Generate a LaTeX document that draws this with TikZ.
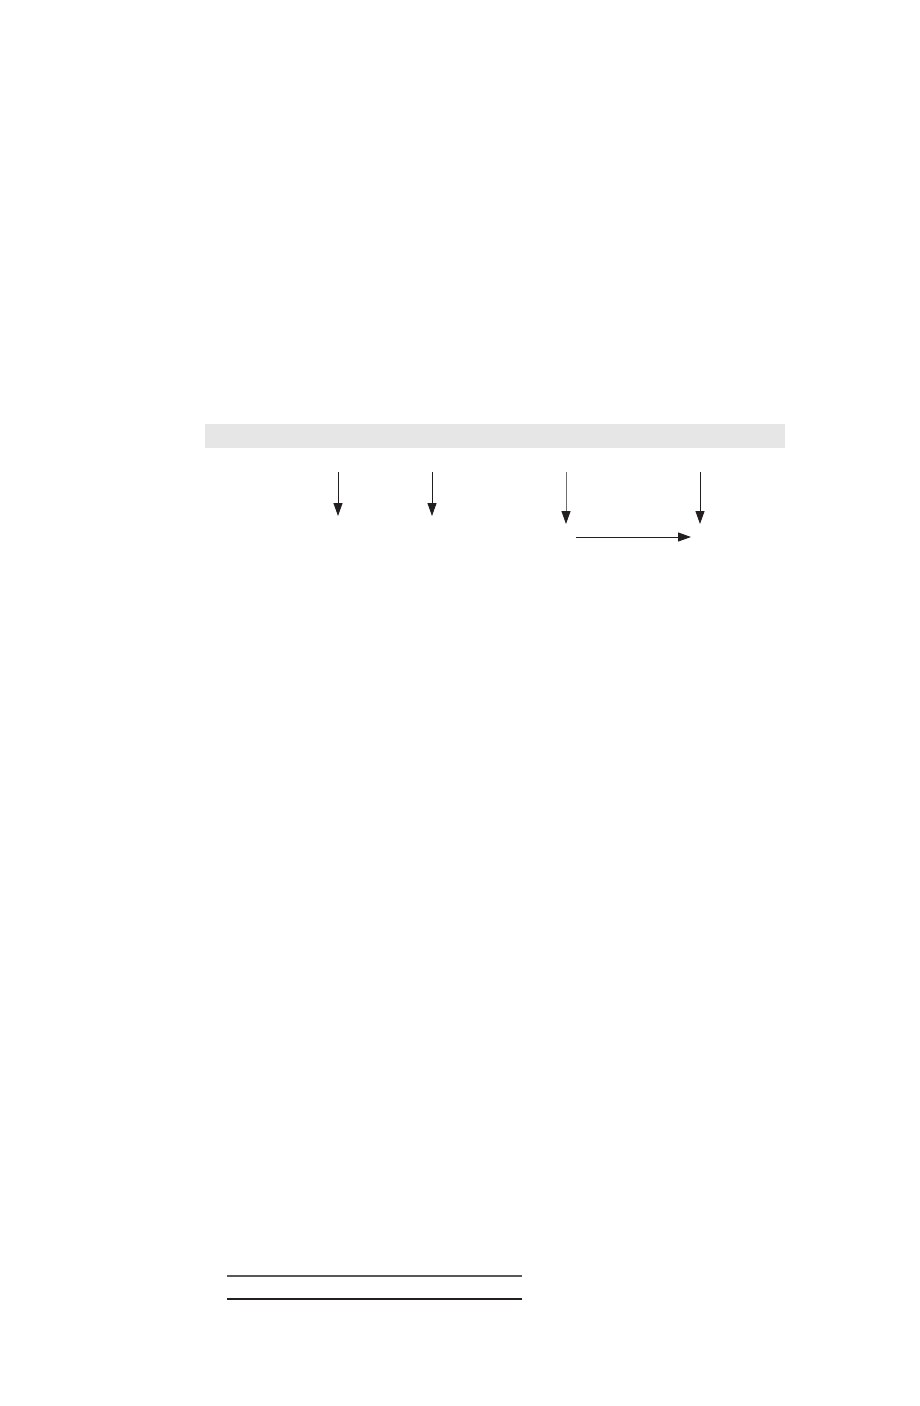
\documentclass[tikz,border=0pt]{standalone}
\usetikzlibrary{arrows.meta}
\definecolor{ink}{HTML}{231F20}
\definecolor{band}{HTML}{E6E6E6}
\tikzset{
  conn/.style={draw=ink, line width=1pt, -{Triangle[length=13pt,width=9pt,color=ink]}},
  rule/.style={draw=ink, line width=1.1pt}
}
\begin{document}
\begin{tikzpicture}[x=1pt,y=-1pt]
\useasboundingbox (0,0) rectangle (920,1406);
\fill[band] (205,424) rectangle (785,448);
% arrow end points
\coordinate (a1) at (338,472); \coordinate (b1) at (338,516);
\coordinate (a2) at (432,472); \coordinate (b2) at (432,516);
\coordinate (a3) at (566,472); \coordinate (b3) at (566,524);
\coordinate (a4) at (700,472); \coordinate (b4) at (700,524);
\coordinate (h1) at (576,537); \coordinate (h2) at (691,537);
\draw[conn] (a1) -- (b1);
\draw[conn] (a2) -- (b2);
\draw[conn, draw=ink!65] (a3) -- (b3);
\draw[conn] (a4) -- (b4);
\draw[conn] (h1) -- (h2);
% bottom rules
\coordinate (r1a) at (227,1276); \coordinate (r1b) at (522,1276);
\coordinate (r2a) at (227,1299); \coordinate (r2b) at (522,1299);
\draw[rule, draw=ink!75] (r1a) -- (r1b);
\draw[rule] (r2a) -- (r2b);
\end{tikzpicture}
\end{document}
